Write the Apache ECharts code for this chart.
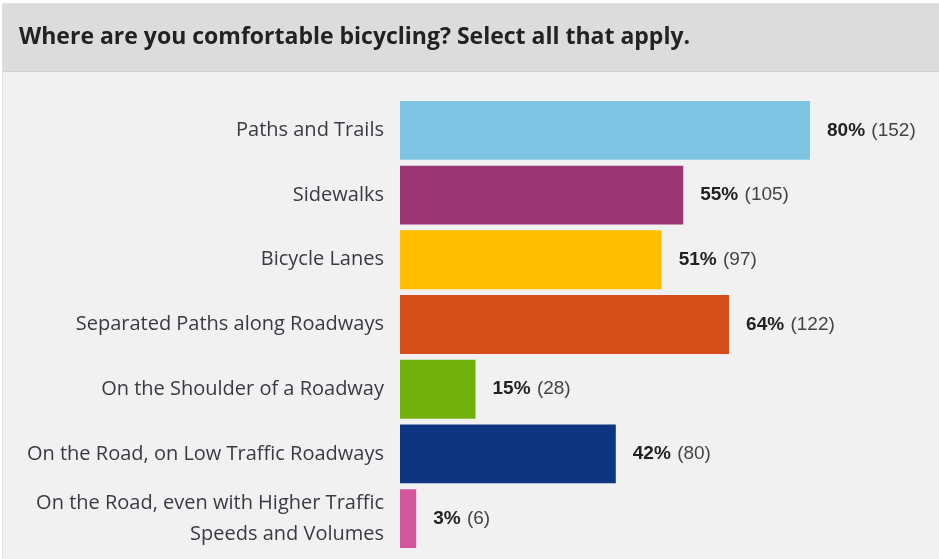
<!DOCTYPE html>
<html>
<head>
<meta charset="utf-8">
<script src="https://cdn.jsdelivr.net/npm/echarts@6/dist/echarts.min.js"></script>
<style>
  html, body { margin: 0; padding: 0; background: #fff; }
  #chart { width: 939px; height: 559px; }
</style>
</head>
<body>
<div id="chart"></div>
<script>
const categories = [
  'Paths and Trails',
  'Sidewalks',
  'Bicycle Lanes',
  'Separated Paths along Roadways',
  'On the Shoulder of a Roadway',
  'On the Road, on Low Traffic Roadways',
  'On the Road, even with Higher Traffic\nSpeeds and Volumes'
];
const counts = [152, 105, 97, 122, 28, 80, 6];
const percents = [80, 55, 51, 64, 15, 42, 3];
const barColors = ['#7fc4e3', '#9b3675', '#fdbf00', '#d54f1a', '#72b00e', '#0e3680', '#d2579c'];

const myChart = echarts.init(document.getElementById('chart'));

const option = {
  backgroundColor: '#fff',
  animation: false,
  graphic: [
    {
      type: 'rect',
      shape: { x: 2.5, y: 3.5, width: 940, height: 560 },
      style: { fill: '#f1f1f1', stroke: '#e2e2e2', lineWidth: 1 },
      z: -10
    },
    {
      type: 'rect',
      shape: { x: 3, y: 4, width: 940, height: 67 },
      style: { fill: '#dcdcdc' },
      z: -9
    },
    {
      type: 'line',
      shape: { x1: 3, y1: 71.5, x2: 939, y2: 71.5 },
      style: { stroke: '#d2d2d2', lineWidth: 1 },
      z: -8
    }
  ],
  title: {
    text: 'Where are you comfortable bicycling? Select all that apply.',
    left: 14,
    top: 21,
    textStyle: {
      fontFamily: 'Open Sans',
      fontWeight: 'bold',
      fontSize: 23,
      color: '#222'
    }
  },
  grid: {
    left: 400,
    top: 98,
    width: 410,
    height: 453
  },
  xAxis: {
    type: 'value',
    min: 0,
    max: 152,
    show: false
  },
  yAxis: {
    type: 'category',
    inverse: true,
    data: categories,
    axisLine: { show: false },
    axisTick: { show: false },
    splitLine: { show: false },
    axisLabel: {
      margin: 16,
      color: '#3a3a44',
      fontFamily: 'Open Sans',
      fontSize: 20,
      lineHeight: 31,
      align: 'right'
    }
  },
  series: [
    {
      type: 'bar',
      data: counts.map((v, i) => ({ value: v, itemStyle: { color: barColors[i] } })),
      barCategoryGap: '9%',
      label: {
        show: true,
        position: 'right',
        distance: 17,
        formatter: p => `{b|${percents[p.dataIndex]}%} {n|(${counts[p.dataIndex]})}`,
        rich: {
          b: { fontFamily: 'Liberation Sans', fontWeight: 'bold', fontSize: 19, color: '#222' },
          n: { fontFamily: 'Liberation Sans', fontSize: 19, color: '#444', padding: [0, 0, 0, 3] }
        }
      }
    }
  ]
};

myChart.setOption(option);
</script>
</body>
</html>
